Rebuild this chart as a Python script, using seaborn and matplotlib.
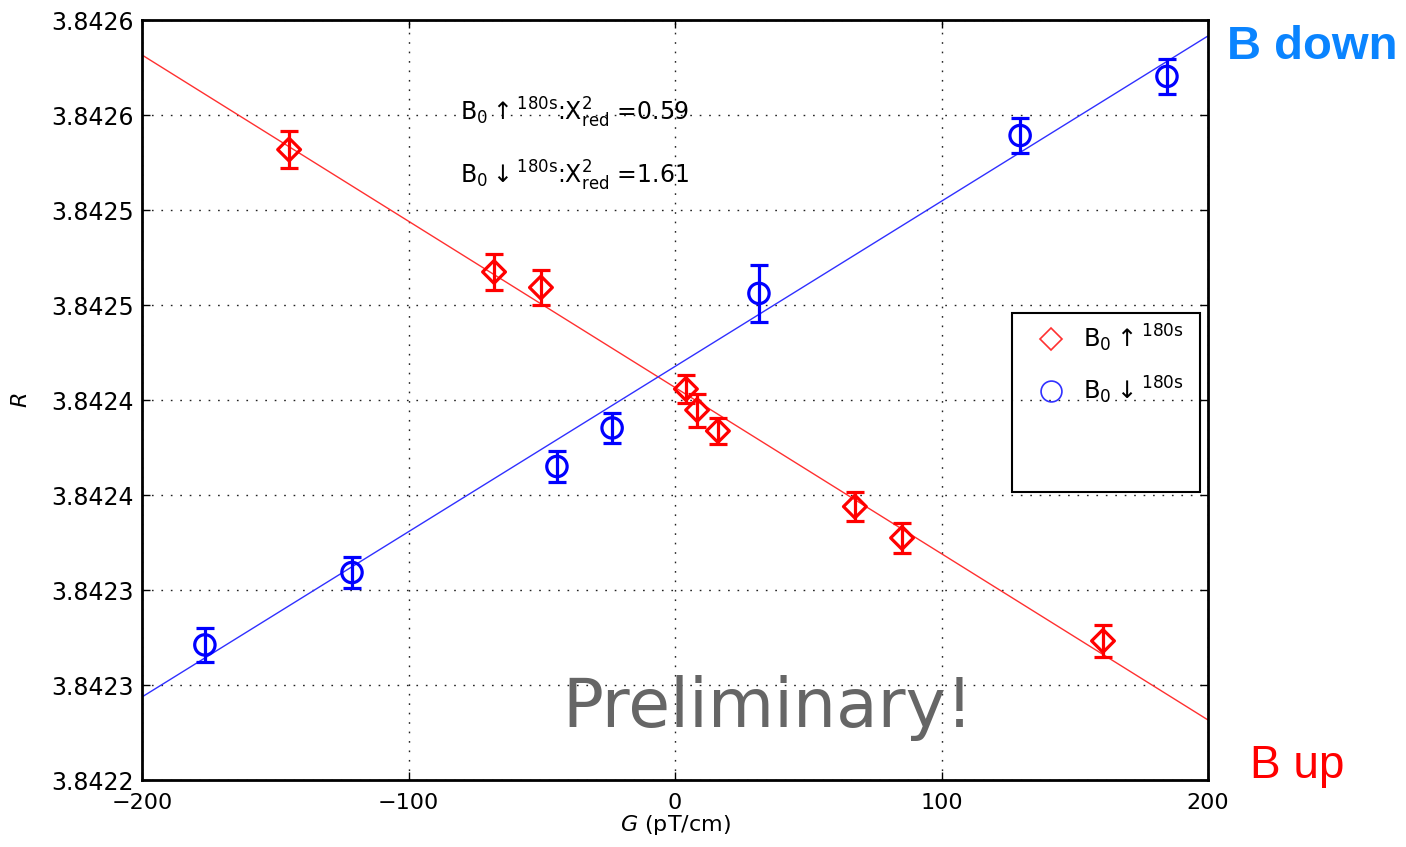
import matplotlib
matplotlib.use("Agg")
import matplotlib.pyplot as plt
import seaborn as sns
import pandas as pd
from matplotlib.lines import Line2D
from matplotlib.patches import Rectangle

# ---------------- data ----------------
red_x = [-144.8, -67.9, -50.3, 4.1, 8.3, 16.1, 67.5, 85.2, 160.6]
red_y = [3.8425318, 3.8424674, 3.8424592, 3.8424058, 3.8423947,
         3.8423837, 3.8423439, 3.8423274, 3.8422732]
red_err = [9.7e-6, 9.5e-6, 9.2e-6, 7.4e-6, 8.7e-6, 6.8e-6, 7.6e-6, 7.9e-6, 8.4e-6]

blue_x = [-176.4, -121.2, -44.3, -23.6, 31.5, 129.5, 184.6]
blue_y = [3.8422711, 3.8423092, 3.8423650, 3.8423853, 3.8424561,
          3.8425392, 3.8425703]
blue_err = [8.9e-6, 8.2e-6, 8.2e-6, 7.9e-6, 1.5e-5, 9.2e-6, 9.2e-6]

fit_x = [-200, 200]
red_fit = [3.8425816, 3.8422316]
blue_fit = [3.8422437, 3.8425916]

x_ticks = [-200, -100, 0, 100, 200]
x_tick_labels = ["\u2212200", "\u2212100", "0", "100", "200"]
y_ticks = [3.84220, 3.84225, 3.84230, 3.84235, 3.84240,
           3.84245, 3.84250, 3.84255, 3.84260]
y_tick_labels = ["3.8422", "3.8423", "3.8423", "3.8424", "3.8424",
                 "3.8425", "3.8425", "3.8426", "3.8426"]

legend_labels = [r"B$_0$$\uparrow$$^{180s}$", r"B$_0$$\downarrow$$^{180s}$"]
chi_texts = [r"B$_0$$\uparrow$$^{180s}$:X$^2_{red}$ =0.59",
             r"B$_0$$\downarrow$$^{180s}$:X$^2_{red}$ =1.61"]

# ---------------- style ----------------
sns.set_style("ticks")
plt.rcParams.update({
    "font.family": ["DejaVu Sans"],
    "mathtext.default": "regular",
    "mathtext.fontset": "dejavusans",
    "text.color": "black",
    "axes.labelcolor": "black",
    "xtick.color": "black",
    "ytick.color": "black",
    "xtick.direction": "in",
    "ytick.direction": "in",
    "xtick.top": True,
    "ytick.right": True,
    "xtick.major.size": 6,
    "ytick.major.size": 6,
    "xtick.major.width": 1.0,
    "ytick.major.width": 1.0,
    "axes.linewidth": 2.0,
    "axes.edgecolor": "black",
})

W, H = 1406, 847
fig = plt.figure(figsize=(W / 100, H / 100), dpi=100)
ax = fig.add_axes([142 / W, 1 - 780 / H, 1066 / W, 760 / H])

# fit lines
sns.lineplot(x=fit_x, y=red_fit, color="#ff3030", lw=1.0, ax=ax, zorder=2)
sns.lineplot(x=fit_x, y=blue_fit, color="#3030ff", lw=1.0, ax=ax, zorder=2)

# error bars
ax.errorbar(red_x, red_y, yerr=red_err, fmt="none", ecolor="#ff0000",
            elinewidth=2.3, capsize=6.5, capthick=2.3, zorder=3)
ax.errorbar(blue_x, blue_y, yerr=blue_err, fmt="none", ecolor="#0000ff",
            elinewidth=2.3, capsize=6.5, capthick=2.3, zorder=3)

# markers
df_red = pd.DataFrame({"G": red_x, "R": red_y})
df_blue = pd.DataFrame({"G": blue_x, "R": blue_y})
sns.scatterplot(data=df_red, x="G", y="R", marker="D", s=135,
                facecolor="none", edgecolor="#ff0000", linewidth=2.3,
                ax=ax, zorder=4)
ax.collections[-1].set_facecolor("none")
ax.collections[-1].set_edgecolor("#ff0000")
sns.scatterplot(data=df_blue, x="G", y="R", marker="o", s=215,
                facecolor="none", edgecolor="#0000ff", linewidth=2.3,
                ax=ax, zorder=4)
ax.collections[-1].set_facecolor("none")
ax.collections[-1].set_edgecolor("#0000ff")

# axes
ax.set_xlim(-200, 200)
ax.set_ylim(3.8422, 3.8426)
ax.set_xticks(x_ticks)
ax.set_xticklabels(x_tick_labels, fontsize=16)
ax.set_yticks(y_ticks)
ax.set_yticklabels(y_tick_labels, fontsize=17)
ax.tick_params(axis="y", pad=6)
ax.tick_params(axis="x", pad=9)
ax.grid(True, color="#222222", linestyle=(0, (1.2, 5.6)), linewidth=1.0)
ax.set_xlabel(r"$\mathit{G}$ (pT/cm)", fontsize=16, labelpad=0)
ax.set_ylabel(r"$\mathit{R}$", fontsize=16, labelpad=14)

# chi2 annotations
fig.text(460 / W, 1 - 113 / H, chi_texts[0], fontsize=17, va="center", ha="left")
fig.text(460 / W, 1 - 176 / H, chi_texts[1], fontsize=17, va="center", ha="left")

# legend
handles = [
    Line2D([], [], marker="D", ls="none", mfc="none", mec="#ff3030", ms=11, mew=1.2),
    Line2D([], [], marker="o", ls="none", mfc="none", mec="#3030ff", ms=15, mew=1.2),
]
leg = ax.legend(handles, legend_labels, loc="upper left",
                bbox_to_anchor=(1030 / W, 1 - 318 / H),
                bbox_transform=fig.transFigure, frameon=False,
                fontsize=17.5, handlelength=1.3, handletextpad=0.7,
                labelspacing=0.85, borderpad=0.2, borderaxespad=0)
ax.add_artist(Rectangle((1012 / W, 1 - 492 / H), 188 / W, 179 / H,
                        transform=fig.transFigure, fill=False, clip_on=False,
                        edgecolor="black", linewidth=1.5, zorder=6))

# side labels and watermark
fig.text(1227 / W, 1 - 47 / H, "B down", color="#0a84ff", fontsize=34,
         fontweight="bold", family=["Liberation Sans", "DejaVu Sans"],
         va="center", ha="left")
fig.text(1250 / W, 1 - 766 / H, "B up", color="#ff0000", fontsize=33,
         family=["Liberation Sans", "DejaVu Sans"], va="center", ha="left")
fig.text(768 / W, 1 - 708 / H, "Preliminary!", color="#666666", fontsize=49,
         va="center", ha="center")

fig.savefig("out.png", dpi=100)
